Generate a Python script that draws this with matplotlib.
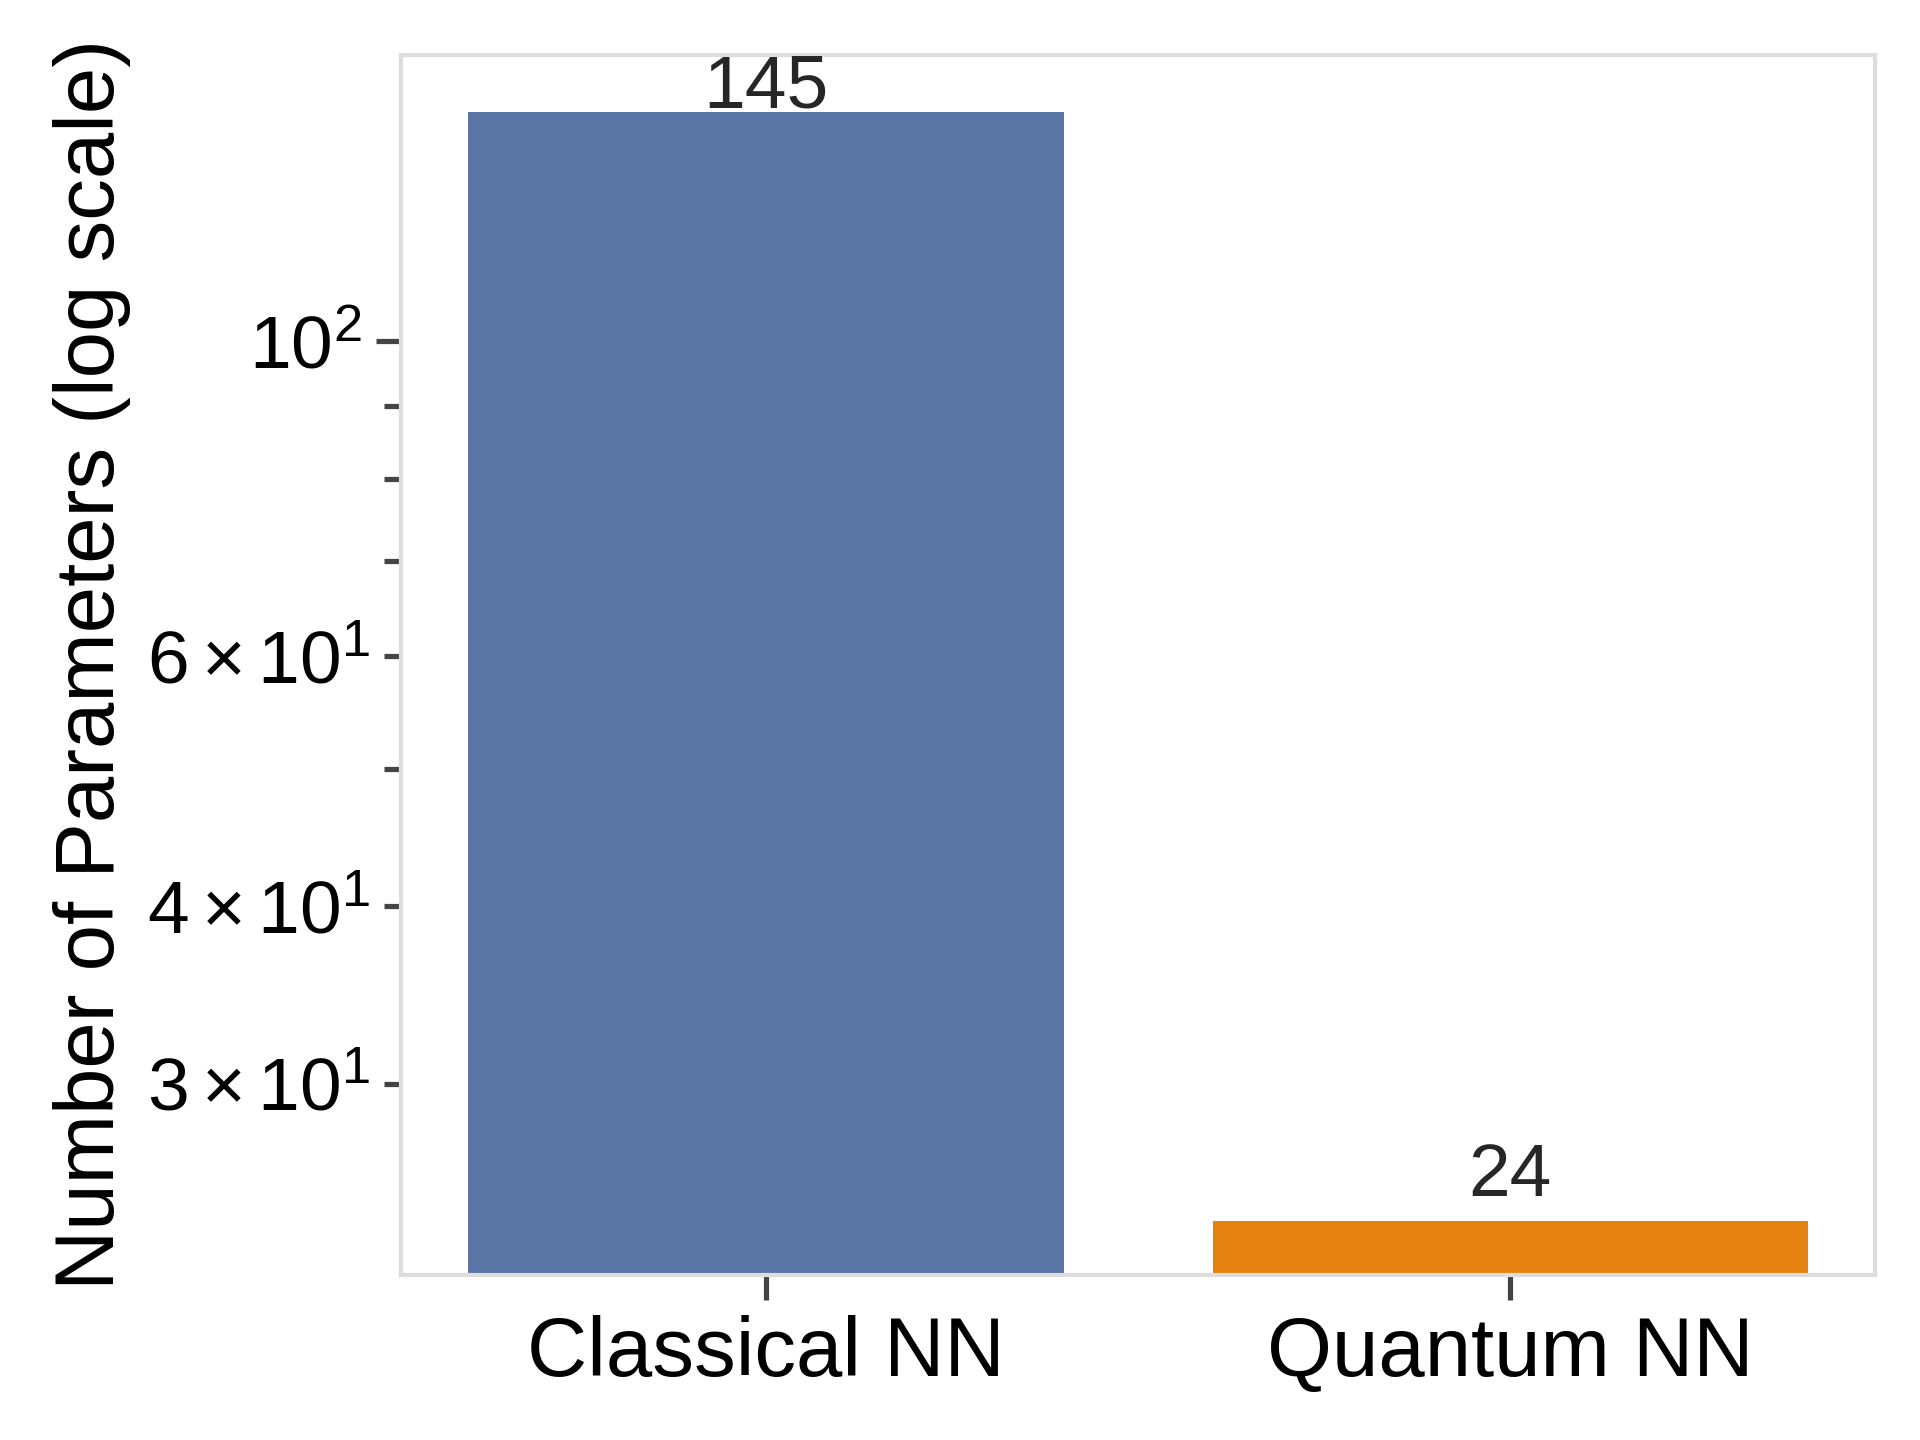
import matplotlib
matplotlib.use("Agg")
import matplotlib.pyplot as plt

# Chart data
models = ["Classical NN", "Quantum NN"]
n_params = [145, 24]
bar_colors = ["#5975a4", "#e5820f"]


def main():
    # Fonts
    plt.rcParams["font.family"] = ["Liberation Sans", "DejaVu Sans"]
    plt.rcParams["mathtext.fontset"] = "custom"
    plt.rcParams["mathtext.rm"] = "Liberation Sans"
    plt.rcParams["mathtext.it"] = "Liberation Sans:italic"
    plt.rcParams["mathtext.bf"] = "Liberation Sans:bold"

    # Create and adjust figure
    fig = plt.figure(figsize=(6.4, 4.8), dpi=300)
    ax = fig.add_axes([0.209, 0.1146, 0.7675, 0.8472])

    # Draw bars
    x = list(range(len(models)))
    ax.bar(x, n_params, width=0.8, color=bar_colors)
    ax.set_yscale("log")

    # Value labels just above the bars
    for xi, v in zip(x, n_params):
        ax.annotate(str(v), (xi, v + 1), ha="center",
                    fontsize=18, color="#262626")

    # Set limits
    ax.set_xlim(-0.49, 1.49)
    ax.set_ylim(22, 159)

    # Axis, ticks and spines
    ax.set_xticks(x)
    ax.set_xticklabels(models)
    ax.tick_params(axis="x", labelsize=20, length=6, width=1.25,
                   color="#444444", labelcolor="black")
    ax.tick_params(axis="y", which="major", labelsize=18, length=6,
                   width=1.25, color="#444444", labelcolor="black")
    ax.tick_params(axis="y", which="minor", labelsize=18, length=4,
                   width=1.25, color="#444444", labelcolor="black")
    for spine in ax.spines.values():
        spine.set_color("#dddddd")
        spine.set_linewidth(1.0)

    ax.set_ylabel("Number of Parameters (log scale)", fontsize=20)

    plt.savefig("out.png", dpi=300)


if __name__ == "__main__":
    main()
